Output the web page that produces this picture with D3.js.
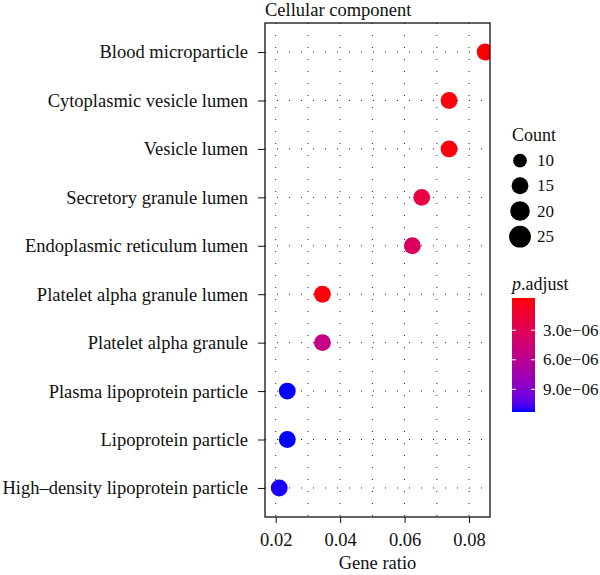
<!DOCTYPE html>
<html><head><meta charset="utf-8">
<script src="https://cdn.jsdelivr.net/npm/d3@7"></script>
<style>
body{margin:0;background:#fff;}
text{font-family:"Liberation Serif","DejaVu Serif",serif;fill:#111;}
</style></head>
<body><svg id="c" width="600" height="575"></svg>
<script>
const categories = ["Blood microparticle","Cytoplasmic vesicle lumen","Vesicle lumen","Secretory granule lumen","Endoplasmic reticulum lumen","Platelet alpha granule lumen","Platelet alpha granule","Plasma lipoprotein particle","Lipoprotein particle","High\u2013density lipoprotein particle"];
const geneRatio = [0.0850,0.0738,0.0738,0.0653,0.0624,0.0345,0.0345,0.0236,0.0236,0.0211];
const counts = [15,15,15,15,15,15,15,15,15,15];
const pAdjust = [1.0e-7,2.5e-7,2.5e-7,2.2e-6,3.6e-6,2.0e-7,5.4e-6,1.10e-5,1.10e-5,1.09e-5];
const xTicks = [0.02,0.04,0.06,0.08];
const xMinor = [0.03,0.05,0.07];
const sizeBreaks = [10,15,20,25];
const pTicks = [3e-6,6e-6,9e-6];
const pTickLabels = ["3.0e\u221206","6.0e\u221206","9.0e\u221206"];
const pDomain = [3e-8,1.1e-5];

const svg = d3.select("#c");
const L=265,R=490,T=23,B=517;
const x = d3.scaleLinear().domain([0.01668,0.0865]).range([L,R]);
const step = (B-T)/(categories.length-1+1.2);
const y = d3.scalePoint().domain(categories).range([T+0.6*step,B-0.6*step]);
const r = d3.scaleSqrt().domain([0,25]).range([0,10.9]);
const col = d3.scaleLinear().domain(pDomain).range(["#ff0000","#0000ff"]).interpolate(d3.interpolateLab);

svg.append("defs").append("clipPath").attr("id","pc").append("rect").attr("x",L).attr("y",T).attr("width",R-L).attr("height",B-T);

const grid = svg.append("g").attr("stroke","#222").attr("stroke-width",1).attr("stroke-dasharray","1,11");
xTicks.concat(xMinor).forEach(v=>grid.append("line").attr("x1",x(v)).attr("x2",x(v)).attr("y1",T).attr("y2",B));
categories.forEach(c=>grid.append("line").attr("x1",L).attr("x2",R).attr("y1",y(c)).attr("y2",y(c)));

svg.append("g").attr("clip-path","url(#pc)").selectAll("circle").data(categories).join("circle")
 .attr("cx",(d,i)=>x(geneRatio[i])).attr("cy",d=>y(d)).attr("r",(d,i)=>r(counts[i])).attr("fill",(d,i)=>col(pAdjust[i]));

svg.append("rect").attr("x",L).attr("y",T).attr("width",R-L).attr("height",B-T).attr("fill","none").attr("stroke","#111").attr("stroke-width",1.3);

const xa = svg.append("g").attr("transform",`translate(0,${B})`).call(d3.axisBottom(x).tickValues(xTicks).tickFormat(d3.format(".2f")).tickSize(6).tickPadding(10));
xa.select(".domain").remove();
xa.selectAll("text").attr("font-size",18.5).style("font-family","Liberation Serif").attr("fill","#111");
xa.selectAll("line").attr("stroke","#111");
const ya = svg.append("g").attr("transform",`translate(${L},0)`).call(d3.axisLeft(y).tickSize(7).tickPadding(10));
ya.select(".domain").remove();
ya.selectAll("text").attr("font-size",18.5).style("font-family","Liberation Serif").attr("fill","#111");
ya.selectAll("line").attr("stroke","#111");

svg.append("text").attr("x",L).attr("y",16).attr("font-size",18.5).text("Cellular component");
svg.append("text").attr("x",(L+R)/2).attr("y",569).attr("text-anchor","middle").attr("font-size",18.5).text("Gene ratio");

// size legend
svg.append("text").attr("x",512).attr("y",141).attr("font-size",18).text("Count");
const ly = [160.7,185.7,211,236.7];
sizeBreaks.forEach((s,i)=>{
  svg.append("circle").attr("cx",520).attr("cy",ly[i]).attr("r",r(s)).attr("fill","#000");
  svg.append("text").attr("x",537).attr("y",ly[i]+5.5).attr("font-size",17).text(s);
});

// color legend
const t = svg.append("text").attr("x",512).attr("y",290).attr("font-size",18);
t.append("tspan").attr("font-style","italic").text("p");
t.append("tspan").text(".adjust");
const bx=512,bw=23,bt=298,bb=412;
const grad = svg.select("defs").append("linearGradient").attr("id","g").attr("x1",0).attr("x2",0).attr("y1",0).attr("y2",1);
d3.range(0,1.0001,0.05).forEach(f=>grad.append("stop").attr("offset",f).attr("stop-color",col(pDomain[0]+f*(pDomain[1]-pDomain[0]))));
svg.append("rect").attr("x",bx).attr("y",bt).attr("width",bw).attr("height",bb-bt).attr("fill","url(#g)");
const py = d3.scaleLinear().domain(pDomain).range([bt+3,bb-3]);
pTicks.forEach((v,i)=>{
  svg.append("line").attr("x1",bx).attr("x2",bx+4).attr("y1",py(v)).attr("y2",py(v)).attr("stroke","#fff").attr("stroke-width",1);
  svg.append("line").attr("x1",bx+bw-4).attr("x2",bx+bw).attr("y1",py(v)).attr("y2",py(v)).attr("stroke","#fff").attr("stroke-width",1);
  svg.append("text").attr("x",bx+bw+8).attr("y",py(v)+5.5).attr("font-size",17).text(pTickLabels[i]);
});
</script></body></html>
